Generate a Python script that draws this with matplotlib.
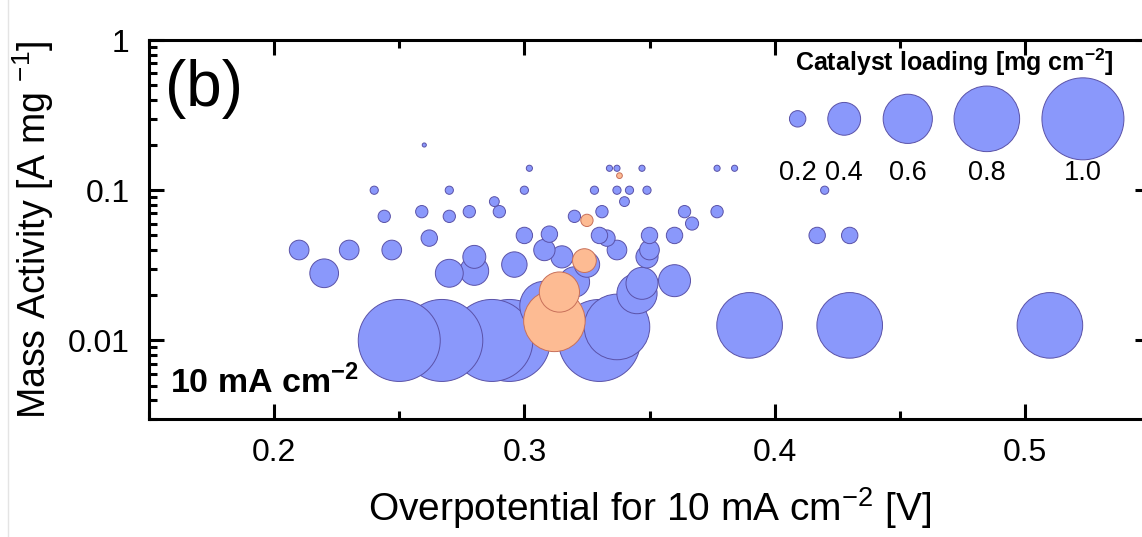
import numpy as np
import matplotlib
matplotlib.use("Agg")
import matplotlib.pyplot as plt
from matplotlib.ticker import FixedLocator, MultipleLocator, LogLocator, NullFormatter
from matplotlib.lines import Line2D

plt.rcParams['font.family'] = 'Liberation Sans'
plt.rcParams['mathtext.fontset'] = 'custom'
plt.rcParams['mathtext.rm'] = 'Liberation Sans'
plt.rcParams['mathtext.bf'] = 'Liberation Sans:bold'

# overpotential [V], mass activity [A/mg], loading [mg/cm2]
blue_eta = [0.26, 0.302, 0.334, 0.337, 0.347, 0.377, 0.384,
            0.24, 0.27, 0.30, 0.328, 0.337, 0.342, 0.349, 0.42,
            0.288, 0.34, 0.259, 0.278, 0.29, 0.331, 0.364, 0.377,
            0.244, 0.27, 0.32, 0.367, 0.417, 0.43, 0.262, 0.30,
            0.31, 0.33, 0.333, 0.35, 0.36, 0.21, 0.23, 0.247,
            0.308, 0.337, 0.35, 0.315, 0.349, 0.28, 0.296, 0.325,
            0.22, 0.27, 0.28, 0.32, 0.36, 0.347, 0.345, 0.308,
            0.337, 0.39, 0.43, 0.51, 0.25, 0.267, 0.287, 0.294, 0.33]
blue_ma = [0.20, 0.14, 0.14, 0.14, 0.14, 0.14, 0.14,
           0.10, 0.10, 0.10, 0.10, 0.10, 0.10, 0.10, 0.10,
           0.084, 0.084, 0.072, 0.072, 0.072, 0.072, 0.072, 0.072,
           0.067, 0.067, 0.067, 0.06, 0.05, 0.05, 0.048, 0.05,
           0.051, 0.05, 0.048, 0.05, 0.05, 0.04, 0.04, 0.04,
           0.04, 0.04, 0.04, 0.036, 0.036, 0.036, 0.032, 0.032,
           0.028, 0.028, 0.029, 0.0245, 0.025, 0.024, 0.0205, 0.017,
           0.0123, 0.0126, 0.0126, 0.0126, 0.01, 0.01, 0.01, 0.01, 0.01]
blue_load = [0.05, 0.075, 0.075, 0.075, 0.075, 0.075, 0.075,
             0.1, 0.1, 0.1, 0.1, 0.1, 0.1, 0.1, 0.1,
             0.12, 0.12, 0.15, 0.15, 0.15, 0.15, 0.15, 0.15,
             0.15, 0.15, 0.15, 0.16, 0.2, 0.2, 0.2, 0.2,
             0.2, 0.2, 0.2, 0.2, 0.2, 0.24, 0.24, 0.24,
             0.26, 0.24, 0.24, 0.27, 0.27, 0.28, 0.31, 0.31,
             0.35, 0.34, 0.35, 0.37, 0.39, 0.39, 0.49, 0.6,
             0.8, 0.8, 0.8, 0.8, 1.0, 1.0, 1.0, 1.0, 1.0]

orange_eta = [0.338, 0.325, 0.324, 0.314, 0.312]
orange_ma = [0.125, 0.063, 0.034, 0.021, 0.0135]
orange_load = [0.07, 0.15, 0.29, 0.49, 0.75]

legend_load = [0.2, 0.4, 0.6, 0.8, 1.0]
legend_xpos = [0.648, 0.6945, 0.758, 0.837, 0.933]  # axes fraction

blue_fc, blue_ec = '#8a98fb', '#5a52a8'
orange_fc, orange_ec = '#fdbb93', '#c8705a'


def size(load):
    # marker diameter ~82 px per 1 mg cm-2 at 100 dpi
    return (np.asarray(load) * 82 * 0.72) ** 2


fig = plt.figure(figsize=(11.42, 5.37), dpi=100)
ax = fig.add_axes([149 / 1142, 1 - 419 / 537, 1001 / 1142, 379 / 537])

order = np.argsort(blue_load, kind='stable')[::-1]
ax.scatter(np.array(blue_eta)[order], np.array(blue_ma)[order], s=size(np.array(blue_load)[order]),
           c=blue_fc, edgecolors=blue_ec, linewidths=0.7, zorder=2)
order = np.argsort(orange_load)[::-1]
ax.scatter(np.array(orange_eta)[order], np.array(orange_ma)[order], s=size(np.array(orange_load)[order]),
           c=orange_fc, edgecolors=orange_ec, linewidths=0.7, zorder=3)

# bubble-size legend
ax.scatter(legend_xpos, [0.792] * len(legend_xpos), s=size(legend_load), transform=ax.transAxes,
           c=blue_fc, edgecolors=blue_ec, linewidths=0.7, zorder=4, clip_on=False)
for xp, lv in zip(legend_xpos, legend_load):
    ax.text(xp, 0.649, f"{lv:.1f}", transform=ax.transAxes, ha='center', va='center', fontsize=19.5)
ax.text(0.805, 0.942, r"Catalyst loading [mg cm$^{\mathbf{-2}}$]", transform=ax.transAxes,
        ha='center', va='center', fontsize=18, fontweight='bold')

ax.set_yscale('log')
ax.set_xlim(0.15, 0.55)
ax.set_ylim(0.003, 1)

ax.xaxis.set_minor_locator(MultipleLocator(0.05))
ax.set_xticks([0.2, 0.3, 0.4, 0.5])
ax.set_xticklabels(['0.2', '0.3', '0.4', '0.5'])
ax.yaxis.set_major_locator(FixedLocator([0.01, 0.1, 1]))
ax.set_yticklabels(['0.01', '0.1', '1'])
ax.yaxis.set_minor_locator(LogLocator(base=10, subs=np.arange(2, 10)))
ax.yaxis.set_minor_formatter(NullFormatter())

ax.tick_params(which='both', direction='in', top=True, right=True, width=2.2, labelsize=23)
ax.tick_params(which='major', length=11, pad=14)
ax.tick_params(which='minor', length=5.5)
for sp in ax.spines.values():
    sp.set_linewidth(2.2)

ax.set_xlabel(r"Overpotential for 10 mA cm$^{-2}$ [V]", fontsize=28, labelpad=12)
ax.set_ylabel(r"Mass Activity [A mg $^{-1}$]", fontsize=27, labelpad=8)

ax.text(0.016, 0.87, "(b)", transform=ax.transAxes, fontsize=46, va='center', ha='left')
ax.text(0.021, 0.05, r"10 mA cm$^{\mathbf{-2}}$", transform=ax.transAxes, fontsize=24.5,
        fontweight='bold', va='bottom', ha='left')

fig.add_artist(Line2D([8 / 1142, 8 / 1142], [0, 1], color='#e4e4e4', linewidth=1))

fig.savefig('out.png', dpi=100)
